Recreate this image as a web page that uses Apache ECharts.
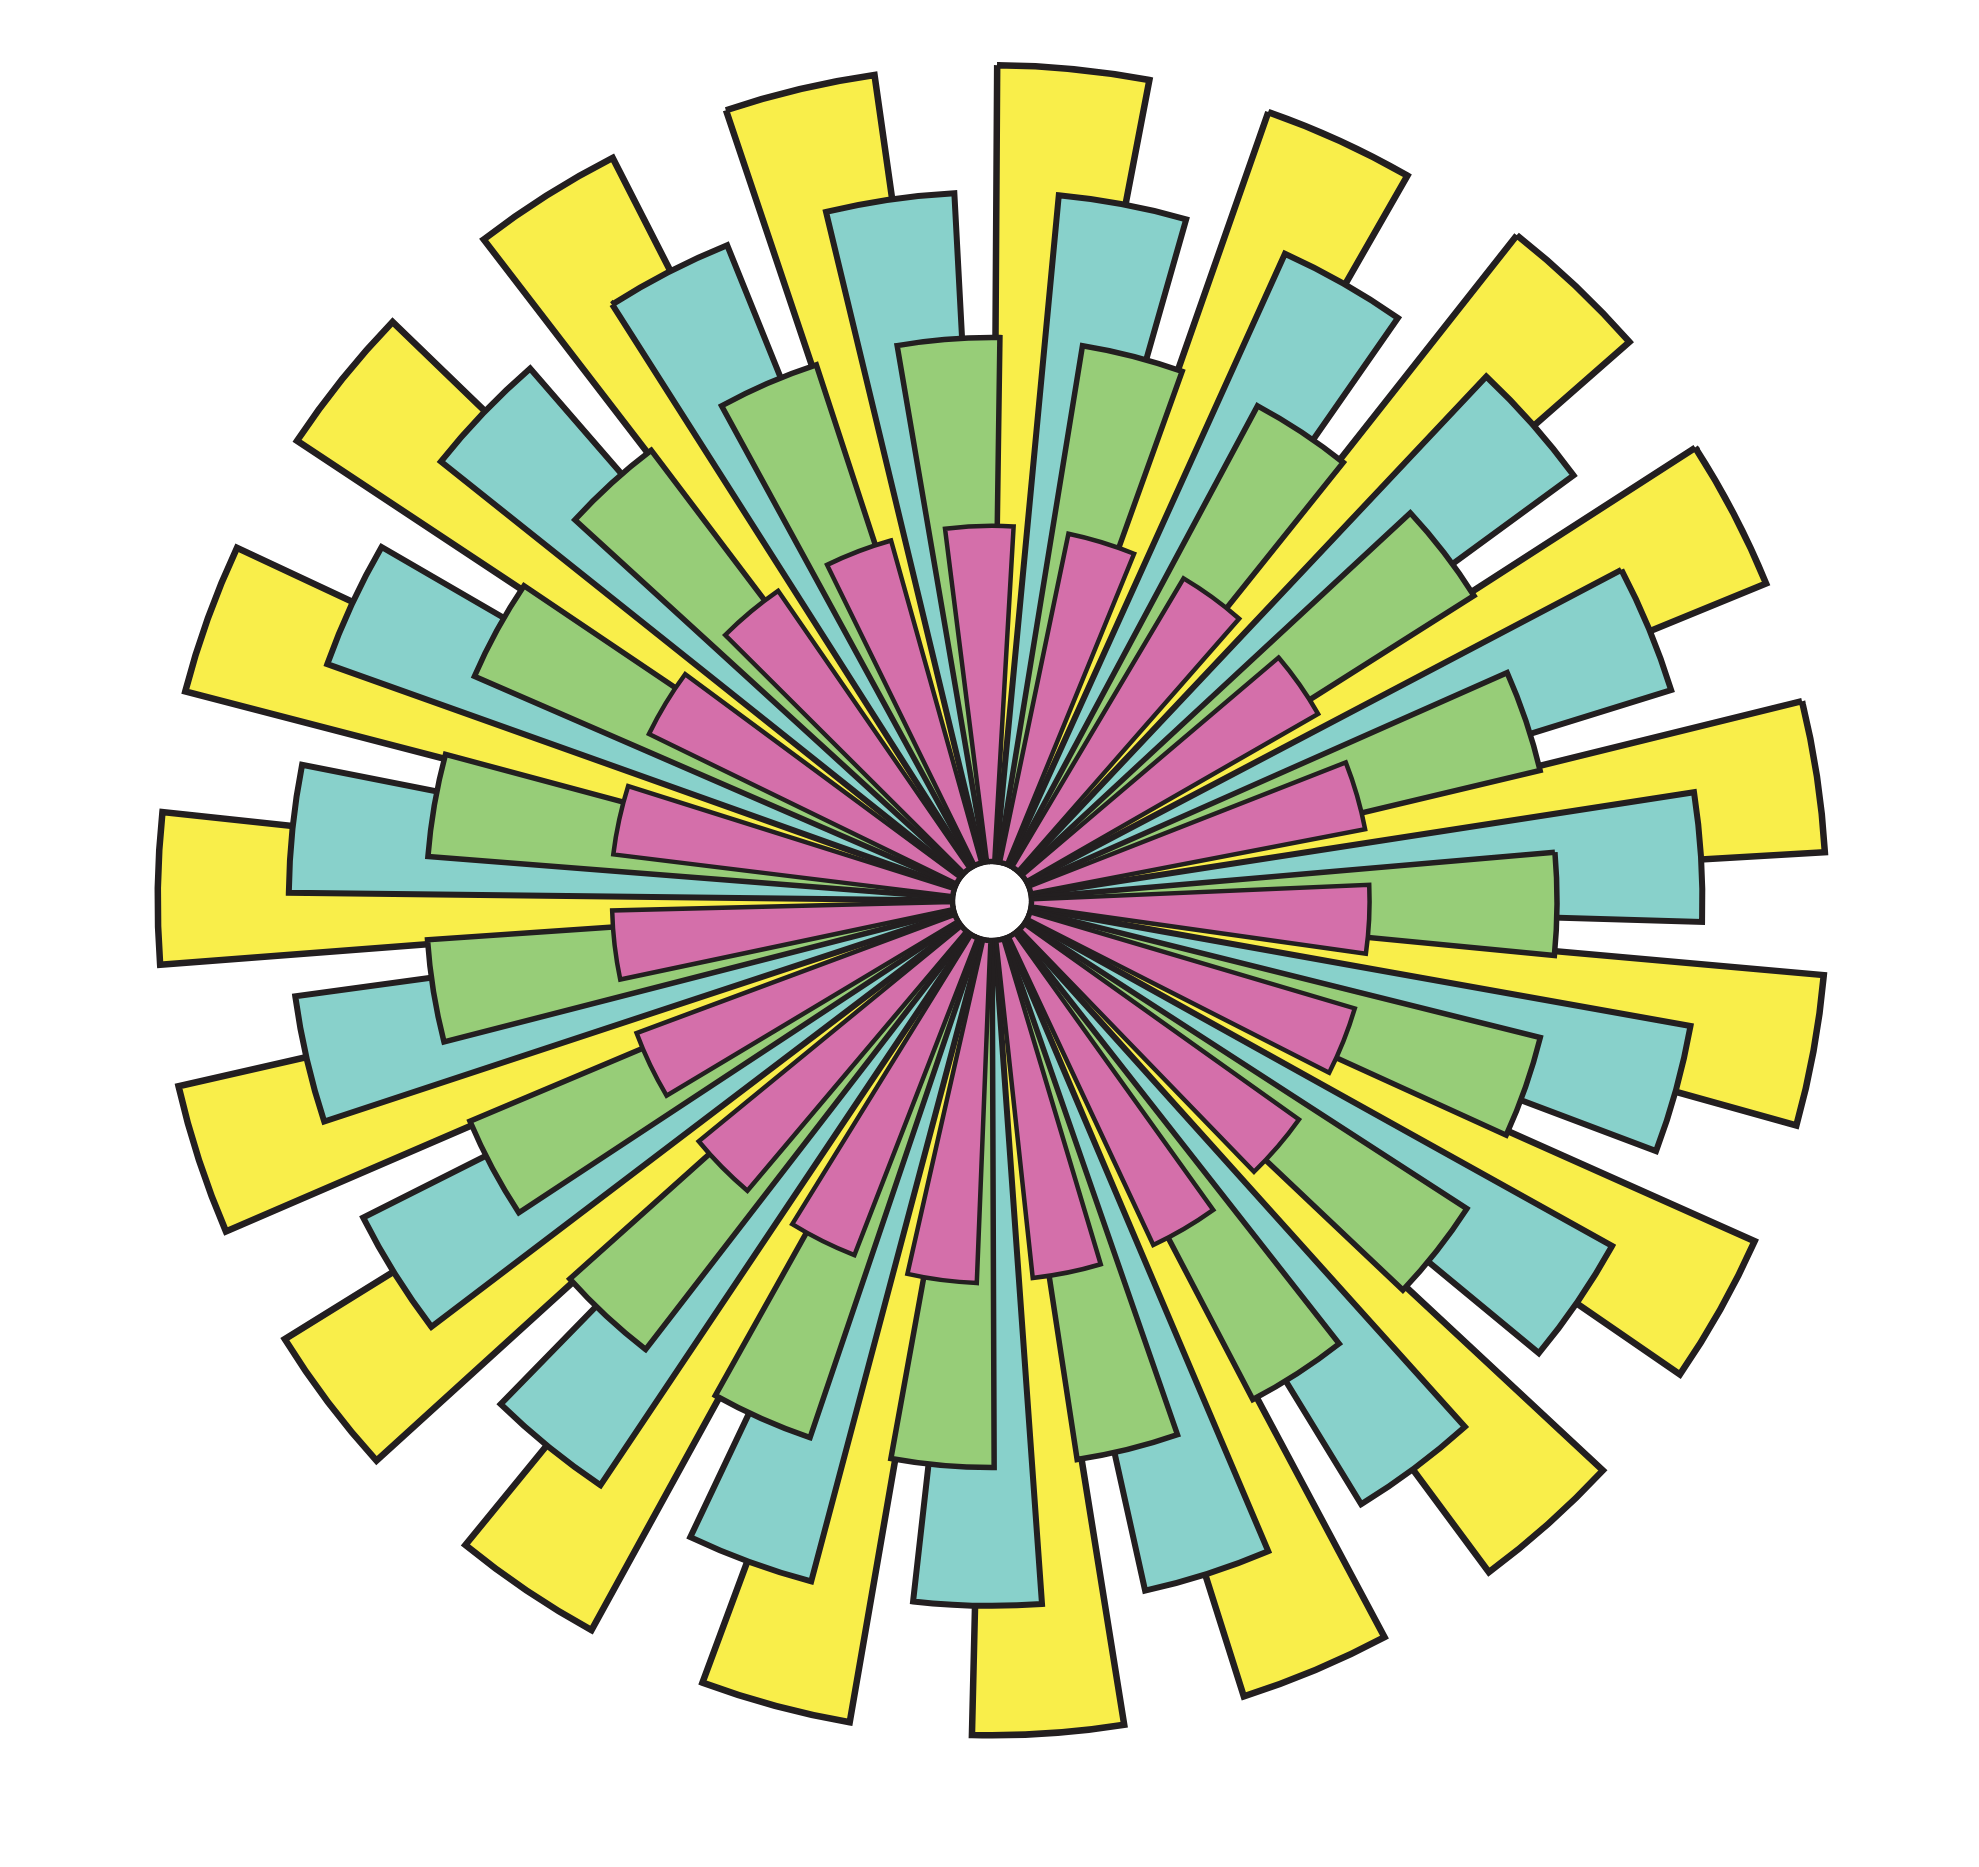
<!DOCTYPE html>
<html>
<head>
<meta charset="utf-8">
<script src="https://cdn.jsdelivr.net/npm/echarts@6/dist/echarts.min.js"></script>
<style>
html,body{margin:0;padding:0;background:#ffffff;}
#chart{width:1979px;height:1867px;}
</style>
</head>
<body>
<div id="chart"></div>
<script>
const categories = ['1','2','3','4','5','6','7','8','9','10','11','12','13','14','15','16','17','18','19'];
const yellowValues = [100.2,100.2,101.7,100.3,100.0,100.1,100.1,100.1,100.0,100.0,99.9,99.7,99.7,100.0,100.0,99.9,99.9,100.0,100.0];
const cyanValues   = [84.2,84.4,85.7,84.5,84.4,84.3,84.3,84.0,83.9,83.7,83.6,83.5,83.6,83.5,83.5,83.8,83.7,84.0,84.2];
const greenValues  = [65.8,65.7,66.8,65.9,66.1,66.1,66.2,65.8,66.1,66.3,66.3,66.3,66.3,66.2,66.2,66.0,66.1,66.0,65.9];
const pinkValues   = [42.2,42.2,42.3,42.8,42.5,42.6,42.4,42.8,42.7,43.1,42.8,42.7,42.7,42.8,43.0,43.0,42.4,42.1,42.2];

const seriesNames = ['Yellow','Cyan','Green','Pink'];
const seriesData = [yellowValues, cyanValues, greenValues, pinkValues];
const colors = ['#F9EE4A','#88D1CB','#97CD78','#D46FAA'];
const startAngles = [93.87, 88.82, 84.97, 82.47];
const borderWidths = [6.5, 6, 5.5, 4.5];

const CENTER = [992, 901];
const R0 = 40;
const UNIT = 7.943;
const RMAX = 105;

const polar = [], angleAxis = [], radiusAxis = [], series = [];
for (let k = 0; k < 4; k++) {
  polar.push({ center: CENTER, radius: [R0, R0 + UNIT * RMAX] });
  angleAxis.push({
    polarIndex: k, type: 'category', data: categories, startAngle: startAngles[k], clockwise: true,
    axisLine: {show: false}, axisTick: {show: false}, axisLabel: {show: false}, splitLine: {show: false}
  });
  radiusAxis.push({
    polarIndex: k, type: 'value', min: 0, max: RMAX,
    axisLine: {show: false}, axisTick: {show: false}, axisLabel: {show: false}, splitLine: {show: false}
  });
  series.push({
    name: seriesNames[k], type: 'bar', coordinateSystem: 'polar', polarIndex: k,
    data: seriesData[k], barWidth: '55.4%',
    itemStyle: { color: colors[k], borderColor: '#231F20', borderWidth: borderWidths[k], borderJoin: 'miter' },
    emphasis: {disabled: true}
  });
}

const chart = echarts.init(document.getElementById('chart'), null, {renderer: 'canvas'});
chart.setOption({
  backgroundColor: '#ffffff',
  animation: false,
  polar, angleAxis, radiusAxis, series
});
</script>
</body>
</html>
